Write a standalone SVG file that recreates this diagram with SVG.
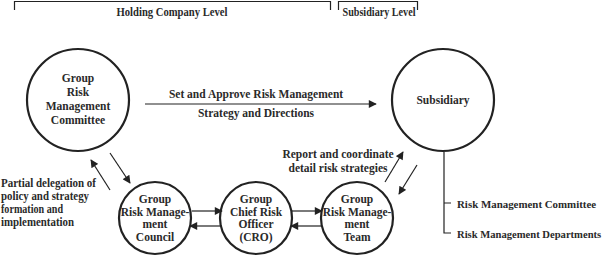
<svg xmlns="http://www.w3.org/2000/svg" width="607" height="256" viewBox="0 0 607 256">
<style>
text{font-family:"Liberation Serif","Times New Roman",serif;font-weight:bold;font-size:11.5px;fill:#2a2a2a}
.c{text-anchor:middle}
.h{font-size:12px}
.node{fill:#fff;stroke:#222;stroke-width:2.2}
.ln{stroke:#222;stroke-width:1.2;fill:none}
.ar{stroke:#222;stroke-width:1.2;fill:none;marker-end:url(#ah)}
</style>
<defs>
<marker id="ah" viewBox="0 0 10 10" refX="9" refY="5" markerWidth="9" markerHeight="8" markerUnits="userSpaceOnUse" orient="auto">
<path d="M0,0 L10,5 L0,10 z" fill="#222"/>
</marker>
</defs>
<g id="headers">
<path class="ln" d="M14.5,10 V1.5 H330.5 V10"/>
<path class="ln" d="M338.5,10 V1.5 H417.5 V10"/>
<text class="c h" x="172" y="16" textLength="111" lengthAdjust="spacingAndGlyphs">Holding Company Level</text>
<text class="c h" x="379" y="16" textLength="73" lengthAdjust="spacingAndGlyphs">Subsidiary Level</text>
</g>
<g id="grmc">
<circle class="node" cx="78" cy="100" r="51"/>
<text class="c" x="78" y="82">Group</text>
<text class="c" x="78" y="96">Risk</text>
<text class="c" x="78" y="110">Management</text>
<text class="c" x="78" y="124">Committee</text>
</g>
<g id="subsidiary">
<circle class="node" cx="443" cy="100" r="51"/>
<text class="c" x="443" y="104">Subsidiary</text>
</g>
<g id="council">
<circle class="node" cx="155" cy="218" r="36"/>
<text class="c" x="155" y="203">Group</text>
<text class="c" x="155" y="215.5">Risk Manage-</text>
<text class="c" x="155" y="228">ment</text>
<text class="c" x="155" y="241">Council</text>
</g>
<g id="cro">
<circle class="node" cx="256" cy="218" r="36"/>
<text class="c" x="256" y="203">Group</text>
<text class="c" x="256" y="215.5">Chief Risk</text>
<text class="c" x="256" y="228">Officer</text>
<text class="c" x="256" y="241">(CRO)</text>
</g>
<g id="team">
<circle class="node" cx="357" cy="218" r="36"/>
<text class="c" x="357" y="203">Group</text>
<text class="c" x="357" y="215.5">Risk Manage-</text>
<text class="c" x="357" y="228">ment</text>
<text class="c" x="357" y="241">Team</text>
</g>
<g id="subsidiary-units">
<text x="457" y="208" style="font-size:10.9px">Risk Management Committee</text>
<text x="457" y="238" style="font-size:10.6px">Risk Management Departments</text>
</g>
<g id="connectors">
<line class="ar" x1="145" y1="104" x2="376" y2="104"/>
<line class="ar" x1="110" y1="153" x2="130" y2="183"/>
<line class="ar" x1="110" y1="190" x2="91" y2="160"/>
<line class="ar" x1="192" y1="211" x2="222" y2="211"/>
<line class="ar" x1="222" y1="226" x2="190" y2="226"/>
<line class="ar" x1="292" y1="211" x2="322" y2="211"/>
<line class="ar" x1="322" y1="226" x2="291" y2="226"/>
<line class="ar" x1="385" y1="182" x2="403" y2="152"/>
<line class="ar" x1="417" y1="165" x2="399" y2="194"/>
<path class="ln" d="M444,152 V233 H451 M444,203 H451"/>
</g>
<g id="labels">
<text class="c" x="256" y="98">Set and Approve Risk Management</text>
<text class="c" x="256" y="117">Strategy and Directions</text>
<text x="1" y="187" textLength="95" lengthAdjust="spacingAndGlyphs">Partial delegation of</text>
<text x="1" y="200" textLength="88" lengthAdjust="spacingAndGlyphs">policy and strategy</text>
<text x="1" y="213" textLength="62" lengthAdjust="spacingAndGlyphs">formation and</text>
<text x="1" y="226" textLength="73" lengthAdjust="spacingAndGlyphs">implementation</text>
<text class="c" x="338" y="158">Report and coordinate</text>
<text class="c" x="338" y="172">detail risk strategies</text>
</g>
</svg>
